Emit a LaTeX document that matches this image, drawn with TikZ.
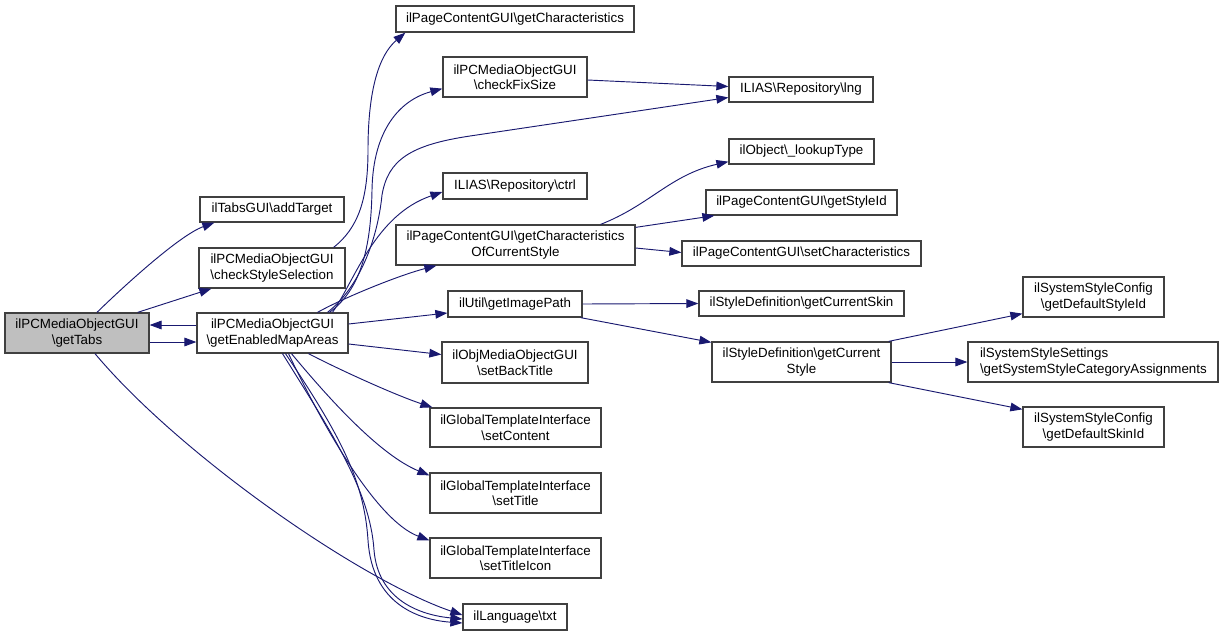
\documentclass[tikz,border=0pt]{standalone}
\usepackage{fontspec}
\setmainfont{Liberation Sans}
\usetikzlibrary{arrows.meta,calc}
\newcommand{\BSl}{\textbackslash{}}
\definecolor{edgeblue}{HTML}{191970}
\definecolor{boxline}{HTML}{404040}
\definecolor{boxgray}{HTML}{BFBFBF}
\begin{document}
\begin{tikzpicture}[x=0.75pt,y=-0.75pt,
  box/.style={draw=boxline,line width=0.95pt,fill=white,inner sep=0pt,align=center,
    font=\fontsize{10}{11.6}\selectfont},
  edge/.style={draw=edgeblue,line width=0.7pt,-{Triangle[length=9pt,width=6.5pt]}}]
\useasboundingbox (0,0) rectangle (1223,636);
% nodes
\node[box,fill=boxgray,minimum width=108pt,minimum height=30pt] (tabs) at (77,333) {ilPCMediaObjectGUI\\\BSl getTabs};
\node[box,minimum width=108pt,minimum height=18.75pt] (addt) at (272,209.5) {ilTabsGUI\BSl addTarget};
\node[box,minimum width=109.5pt,minimum height=30pt] (css) at (272,268) {ilPCMediaObjectGUI\\\BSl checkStyleSelection};
\node[box,minimum width=113.25pt,minimum height=30pt] (gema) at (272.5,333) {ilPCMediaObjectGUI\\\BSl getEnabledMapAreas};
\node[box,minimum width=178.5pt,minimum height=19.5pt] (gc) at (515,19) {ilPageContentGUI\BSl getCharacteristics};
\node[box,minimum width=108pt,minimum height=30pt] (cfs) at (515,77) {ilPCMediaObjectGUI\\\BSl checkFixSize};
\node[box,minimum width=108pt,minimum height=18.75pt] (lng) at (801,89.5) {ILIAS\BSl Repository\BSl lng};
\node[box,minimum width=108pt,minimum height=19.5pt] (ctrl) at (515,186) {ILIAS\BSl Repository\BSl ctrl};
\node[box,minimum width=179.25pt,minimum height=30pt] (gcocs) at (515.5,245) {ilPageContentGUI\BSl getCharacteristics\\OfCurrentStyle};
\node[box,minimum width=108.75pt,minimum height=18.75pt] (lt) at (801.5,151.5) {ilObject\BSl\_lookupType};
\node[box,minimum width=143.25pt,minimum height=18.75pt] (gsi) at (801.5,202.5) {ilPageContentGUI\BSl getStyleId};
\node[box,minimum width=179.25pt,minimum height=18.75pt] (sc) at (801.5,253.5) {ilPageContentGUI\BSl setCharacteristics};
\node[box,minimum width=100.5pt,minimum height=19.5pt] (gip) at (515,304) {ilUtil\BSl getImagePath};
\node[box,minimum width=153.75pt,minimum height=18.75pt] (gcsk) at (801.5,303.5) {ilStyleDefinition\BSl getCurrentSkin};
\node[box,minimum width=134.25pt,minimum height=30pt] (gcst) at (801.5,362) {ilStyleDefinition\BSl getCurrent\\Style};
\node[box,minimum width=109.5pt,minimum height=30.75pt] (sbt) at (515,362.5) {ilObjMediaObjectGUI\\\BSl setBackTitle};
\node[box,minimum width=128.25pt,minimum height=29.25pt] (scon) at (515.5,427.5) {ilGlobalTemplateInterface\\\BSl setContent};
\node[box,minimum width=128.25pt,minimum height=30pt] (st) at (515.5,493) {ilGlobalTemplateInterface\\\BSl setTitle};
\node[box,minimum width=128.25pt,minimum height=30pt] (sti) at (515.5,558) {ilGlobalTemplateInterface\\\BSl setTitleIcon};
\node[box,minimum width=78pt,minimum height=19.5pt] (txt) at (515,617) {ilLanguage\BSl txt};
\node[box,minimum width=105.75pt,minimum height=30pt] (gdst) at (1093.5,297) {ilSystemStyleConfig\\\BSl getDefaultStyleId};
\node[box,minimum width=187.5pt,minimum height=30pt,text width=169.5pt,align=left] (gssca) at (1093,362) {ilSystemStyleSettings\\\BSl getSystemStyleCategoryAssignments};
\node[box,minimum width=105.75pt,minimum height=30pt] (gdsk) at (1093.5,427) {ilSystemStyleConfig\\\BSl getDefaultSkinId};
% edges from getTabs
\draw[edge] ($(tabs.north)+(20,0)$) .. controls (125,285) and (180,235) .. ($(addt.south west)+(15,0)$);
\draw[edge] ($(tabs.north east)+(-12,0)$) -- ($(css.south west)+(13,0)$);
\draw[edge] ($(tabs.east)+(0,9)$) -- ($(gema.west)+(0,9)$);
\draw[edge] ($(gema.west)+(0,-8)$) -- ($(tabs.east)+(0,-8)$);
\draw[edge] ($(tabs.south)+(18,0)$) .. controls (180,455) and (360,580) .. ($(txt.west)+(0,-2)$);
% checkStyleSelection
\draw[edge] ($(css.north east)+(-12,0)$) .. controls (358,228) and (368,200) .. (368,150) .. controls (368,75) and (385,50) .. ($(gc.south west)+(10,0)$);
% getEnabledMapAreas
\draw[edge] ($(gema.north)+(57,0)$) .. controls (360,290) and (371,250) .. (372,190) .. controls (373,130) and (400,100) .. ($(cfs.south west)+(0,-9)$);
\draw[edge] ($(gema.north)+(55,0)$) .. controls (362,285) and (378,235) .. (382,195) .. controls (388,160) and (410,145) .. (470,136) -- ($(lng.west)+(0,8)$);
\draw[edge] ($(gema.north)+(60,0)$) .. controls (355,280) and (375,215) .. ($(ctrl.west)+(0,6)$);
\draw[edge] ($(gema.north)+(45,0)$) .. controls (345,297) and (400,275) .. ($(gcocs.south west)+(41,0)$);
\draw[edge] ($(gema.east)+(0,-9)$) -- ($(gip.west)+(0,9)$);
\draw[edge] ($(gema.east)+(0,11)$) -- ($(sbt.west)+(0,-8)$);
\draw[edge] ($(gema.south)+(36,0)$) .. controls (340,370) and (395,395) .. ($(scon.north west)+(3,0)$);
\draw[edge] ($(gema.south)+(19,0)$) .. controls (330,400) and (380,455) .. ($(st.north west)+(0,3)$);
\draw[edge] ($(gema.south)+(16,0)$) .. controls (320,420) and (375,520) .. ($(sti.north west)+(0,3)$);
\draw[edge] ($(gema.south)+(10,0)$) .. controls (330,430) and (370,490) .. (374,550) .. controls (378,600) and (420,615) .. ($(txt.west)+(0,2)$);
\draw[edge] ($(gema.south)+(13,0)$) .. controls (340,435) and (364,480) .. (368,540) .. controls (372,605) and (420,620) .. ($(txt.west)+(0,6)$);
% checkFixSize
\draw[edge] ($(cfs.east)+(0,3)$) -- ($(lng.west)+(0,-3)$);
% getCharacteristicsOfCurrentStyle
\draw[edge] ($(gcocs.north east)+(-35,0)$) .. controls (650,205) and (670,175) .. ($(lt.south west)+(0,-3)$);
\draw[edge] ($(gcocs.north east)+(0,3)$) -- ($(gsi.south west)+(9,0)$);
\draw[edge] ($(gcocs.east)+(0,3)$) -- ($(sc.west)+(0,-1)$);
% getImagePath
\draw[edge] (gip.east) -- (gcsk.west);
\draw[edge] ($(gip.south east)+(-2,0)$) -- ($(gcst.north west)+(0,1)$);
% getCurrentStyle
\draw[edge] ($(gcst.north east)+(-3,0)$) -- ($(gdst.south west)+(0,-4)$);
\draw[edge] (gcst.east) -- (gssca.west);
\draw[edge] ($(gcst.south east)+(-3,0)$) -- ($(gdsk.north west)+(0,3)$);
\end{tikzpicture}
\end{document}
